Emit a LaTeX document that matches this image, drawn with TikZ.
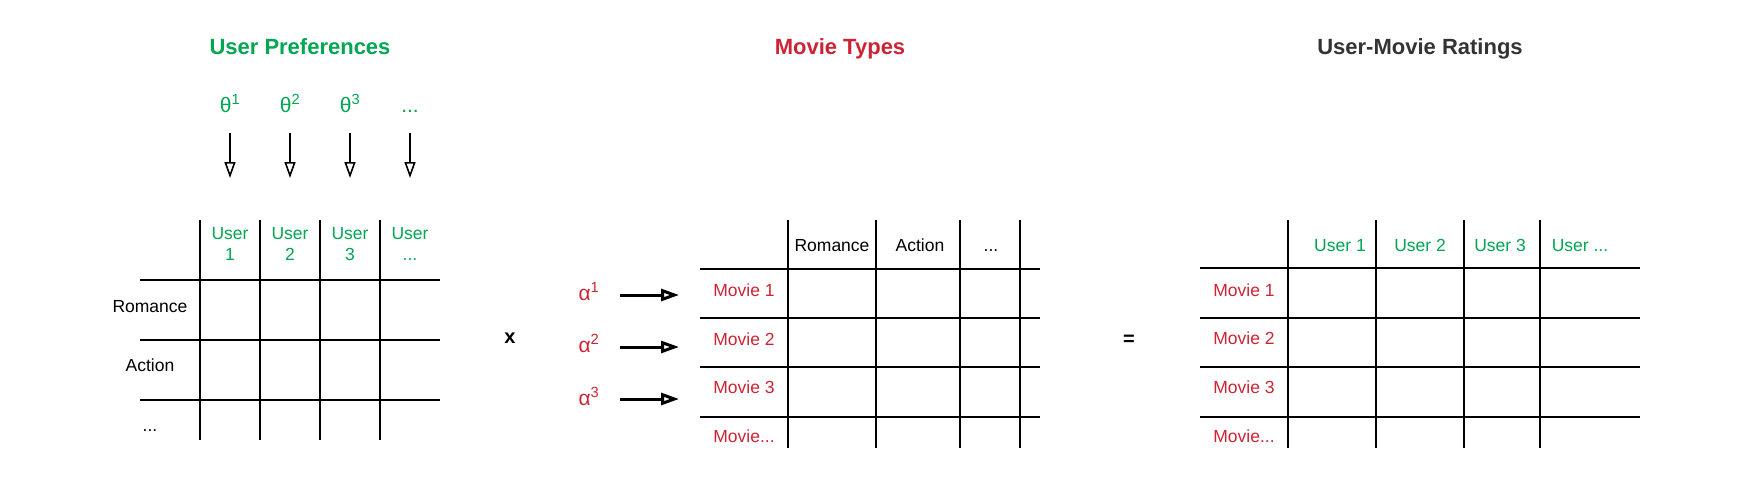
\documentclass[tikz,border=0pt]{standalone}
\usepackage{fontspec}
\setmainfont{Liberation Sans}
\usetikzlibrary{arrows.meta}
\definecolor{prefgreen}{RGB}{0,166,81}
\definecolor{typered}{RGB}{204,36,52}
\definecolor{titlegray}{RGB}{51,51,51}
\tikzset{
	grid line/.style={line width=2pt},
	label text/.style={font=\fontsize{17.5}{21}\selectfont, inner sep=0pt, anchor=base},
	title text/.style={font=\fontsize{22}{26}\selectfont\bfseries, inner sep=0pt, anchor=base},
	greek text/.style={font=\fontsize{21}{25}\selectfont, inner sep=0pt, anchor=base},
	sign text/.style={font=\fontsize{20}{24}\selectfont\bfseries, inner sep=0pt, anchor=base},
	thin arrow/.style={line width=1.6pt, -{Triangle[open, length=16pt, width=11pt]}},
	thick arrow/.style={line width=3pt, -{Triangle[open, length=18pt, width=12pt]}}
}
\begin{document}
\begin{tikzpicture}[x=1pt, y=-1pt]
		\useasboundingbox (0, 0) rectangle (1760, 495);
		%%%%% TITLES %%%%%
		\node[title text, prefgreen] (prefTitle) at (300, 55) {User Preferences};
		\node[title text, typered] (typeTitle) at (840, 55) {Movie Types};
		\node[title text, titlegray] (ratingTitle) at (1420, 55) {User-Movie Ratings};
		
		%%%%% USER PREFERENCES %%%%%
		\node[greek text, prefgreen] (theta1) at (230, 112) {θ\textsuperscript{1}};
		\node[greek text, prefgreen] (theta2) at (290, 112) {θ\textsuperscript{2}};
		\node[greek text, prefgreen] (theta3) at (350, 112) {θ\textsuperscript{3}};
		\node[greek text, prefgreen] (thetaN) at (410, 112) {...};
		
		\coordinate (theta1top) at (230, 133); \coordinate (theta1end) at (230, 178);
		\coordinate (theta2top) at (290, 133); \coordinate (theta2end) at (290, 178);
		\coordinate (theta3top) at (350, 133); \coordinate (theta3end) at (350, 178);
		\coordinate (thetaNtop) at (410, 133); \coordinate (thetaNend) at (410, 178);
		\draw[thin arrow] (theta1top) -- (theta1end);
		\draw[thin arrow] (theta2top) -- (theta2end);
		\draw[thin arrow] (theta3top) -- (theta3end);
		\draw[thin arrow] (thetaNtop) -- (thetaNend);
		
		\draw[grid line] (200, 220) -- (200, 440);
		\draw[grid line] (260, 220) -- (260, 440);
		\draw[grid line] (320, 220) -- (320, 440);
		\draw[grid line] (380, 220) -- (380, 440);
		\draw[grid line] (140, 280) -- (440, 280);
		\draw[grid line] (140, 340) -- (440, 340);
		\draw[grid line] (140, 400) -- (440, 400);
		
		\node[label text, prefgreen, align=center, anchor=center] (prefUser1) at (230, 244) {User\\1};
		\node[label text, prefgreen, align=center, anchor=center] (prefUser2) at (290, 244) {User\\2};
		\node[label text, prefgreen, align=center, anchor=center] (prefUser3) at (350, 244) {User\\3};
		\node[label text, prefgreen, align=center, anchor=center] (prefUserN) at (410, 244) {User\\...};
		
		\node[label text] (prefRomance) at (150, 312) {Romance};
		\node[label text] (prefAction) at (150, 371) {Action};
		\node[label text] (prefMore) at (150, 431) {...};
		
		\node[sign text] (times) at (510, 343) {x};
		
		%%%%% MOVIE TYPES %%%%%
		\node[greek text, typered] (alpha1) at (589, 300) {α\textsuperscript{1}};
		\node[greek text, typered] (alpha2) at (589, 352) {α\textsuperscript{2}};
		\node[greek text, typered] (alpha3) at (589, 405) {α\textsuperscript{3}};
		
		\coordinate (alpha1from) at (620, 295); \coordinate (alpha1to) at (679, 295);
		\coordinate (alpha2from) at (620, 347); \coordinate (alpha2to) at (679, 347);
		\coordinate (alpha3from) at (620, 399); \coordinate (alpha3to) at (679, 399);
		\draw[thick arrow] (alpha1from) -- (alpha1to);
		\draw[thick arrow] (alpha2from) -- (alpha2to);
		\draw[thick arrow] (alpha3from) -- (alpha3to);
		
		\draw[grid line] (788, 220) -- (788, 448);
		\draw[grid line] (876, 220) -- (876, 448);
		\draw[grid line] (960, 220) -- (960, 448);
		\draw[grid line] (1020, 220) -- (1020, 448);
		\draw[grid line] (700, 269) -- (1040, 269);
		\draw[grid line] (700, 318) -- (1040, 318);
		\draw[grid line] (700, 367) -- (1040, 367);
		\draw[grid line] (700, 417) -- (1040, 417);
		
		\node[label text] (typeRomance) at (832, 251) {Romance};
		\node[label text] (typeAction) at (920, 251) {Action};
		\node[label text] (typeMore) at (991, 251) {...};
		
		\node[label text, typered] (typeMovie1) at (744, 296) {Movie 1};
		\node[label text, typered] (typeMovie2) at (744, 345) {Movie 2};
		\node[label text, typered] (typeMovie3) at (744, 393) {Movie 3};
		\node[label text, typered] (typeMovieN) at (744, 442) {Movie...};
		
		\node[sign text] (equals) at (1129, 345) {=};
		
		%%%%% RATINGS %%%%%
		\draw[grid line] (1288, 220) -- (1288, 448);
		\draw[grid line] (1376, 220) -- (1376, 448);
		\draw[grid line] (1464, 220) -- (1464, 448);
		\draw[grid line] (1540, 220) -- (1540, 448);
		\draw[grid line] (1200, 268) -- (1640, 268);
		\draw[grid line] (1200, 318) -- (1640, 318);
		\draw[grid line] (1200, 367) -- (1640, 367);
		\draw[grid line] (1200, 417) -- (1640, 417);
		
		\node[label text, prefgreen] (rateUser1) at (1340, 251) {User 1};
		\node[label text, prefgreen] (rateUser2) at (1420, 251) {User 2};
		\node[label text, prefgreen] (rateUser3) at (1500, 251) {User 3};
		\node[label text, prefgreen] (rateUserN) at (1580, 251) {User ...};
		
		\node[label text, typered] (rateMovie1) at (1244, 296) {Movie 1};
		\node[label text, typered] (rateMovie2) at (1244, 344) {Movie 2};
		\node[label text, typered] (rateMovie3) at (1244, 393) {Movie 3};
		\node[label text, typered] (rateMovieN) at (1244, 442) {Movie...};
		%%%%% END %%%%%
	\end{tikzpicture}
\end{document}
